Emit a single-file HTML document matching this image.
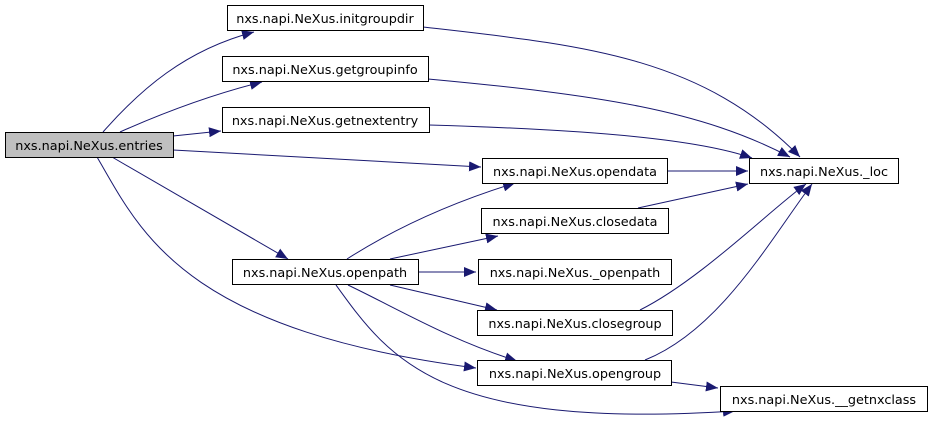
<!DOCTYPE html>
<html><head><style>
html,body{margin:0;padding:0;background:#fff;width:933px;height:428px;overflow:hidden}
svg text{font-family:"DejaVu Sans","Liberation Sans",sans-serif;font-size:12.8px;fill:#000}
</style></head><body>
<svg width="933" height="428" viewBox="0 0 933 428" xmlns="http://www.w3.org/2000/svg">
<defs><marker id="a" markerWidth="13" markerHeight="10" refX="12" refY="5" orient="auto" markerUnits="userSpaceOnUse"><polygon points="0,0 12,5 0,10" fill="#191970"/></marker></defs>
<g fill="none" stroke="#191970" stroke-width="1" marker-end="url(#a)">
<path d="M103,132 C140,90 185,50 254,32"/>
<path d="M120,132 C165,112 210,95 262,82"/>
<path d="M173,136 L221,131"/>
<path d="M173,150 L481,167"/>
<path d="M112,157 L288,259"/>
<path d="M97,157 C140,230 180,330 476,368"/>
<path d="M423,27 C580,45 700,55 800,157"/>
<path d="M428,79 C600,95 700,110 790,157"/>
<path d="M429,125 C600,130 700,140 752,158"/>
<path d="M667,171 L748,171"/>
<path d="M638,208 L748,184"/>
<path d="M640,310 C700,280 770,210 806,184"/>
<path d="M645,360 C720,330 770,240 812,184"/>
<path d="M347,259 C400,225 460,200 515,183"/>
<path d="M390,259 L498,236"/>
<path d="M418,272 L476,272"/>
<path d="M390,285 L497,310"/>
<path d="M348,285 C400,310 450,340 517,361"/>
<path d="M336,285 C390,360 440,430 735,411"/>
<path d="M671,382 L718,388"/>
</g>
<g stroke-width="1">
<rect x="5.5" y="132.5" width="168" height="25" fill="#bfbfbf" stroke="#000"/>
<rect x="227.5" y="5.5" width="196" height="25" fill="#fff" stroke="#000"/>
<rect x="222.5" y="56.5" width="206" height="25" fill="#fff" stroke="#000"/>
<rect x="222.5" y="107.5" width="207" height="25" fill="#fff" stroke="#000"/>
<rect x="232.5" y="259.5" width="186" height="25" fill="#fff" stroke="#000"/>
<rect x="482.5" y="158.5" width="185" height="25" fill="#fff" stroke="#000"/>
<rect x="481.5" y="208.5" width="187" height="25" fill="#fff" stroke="#000"/>
<rect x="478.5" y="259.5" width="193" height="25" fill="#fff" stroke="#000"/>
<rect x="477.5" y="310.5" width="195" height="25" fill="#fff" stroke="#000"/>
<rect x="477.5" y="360.5" width="194" height="25" fill="#fff" stroke="#000"/>
<rect x="749.5" y="158.5" width="149" height="25" fill="#fff" stroke="#000"/>
<rect x="720.5" y="386.5" width="207" height="25" fill="#fff" stroke="#000"/>
</g>
<g text-anchor="middle">
<text x="89" y="150">nxs.napi.NeXus.entries</text>
<text x="325" y="23">nxs.napi.NeXus.initgroupdir</text>
<text x="325" y="74">nxs.napi.NeXus.getgroupinfo</text>
<text x="325" y="125">nxs.napi.NeXus.getnextentry</text>
<text x="325" y="277">nxs.napi.NeXus.openpath</text>
<text x="575" y="176">nxs.napi.NeXus.opendata</text>
<text x="575" y="226">nxs.napi.NeXus.closedata</text>
<text x="575" y="277">nxs.napi.NeXus._openpath</text>
<text x="575" y="328">nxs.napi.NeXus.closegroup</text>
<text x="575" y="378">nxs.napi.NeXus.opengroup</text>
<text x="824" y="176">nxs.napi.NeXus._loc</text>
<text x="824" y="404">nxs.napi.NeXus.__getnxclass</text>
</g>
</svg>
</body></html>
